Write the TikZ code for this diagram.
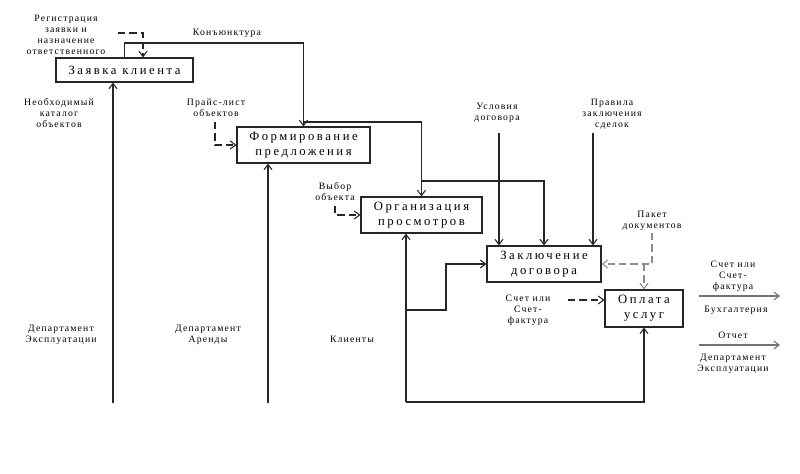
\documentclass[tikz,border=0pt]{standalone}
\usepackage{fontspec}
\setmainfont{Liberation Serif}
\newfontfamily\boxfont[LetterSpace=20]{Liberation Serif}
\newfontfamily\lblfont[LetterSpace=12]{Liberation Serif}
\usetikzlibrary{arrows.meta}

\begin{document}
\begin{tikzpicture}[x=0.75pt,y=-0.75pt,
    box/.style={draw=black!85,line width=0.8pt,align=center,inner sep=1pt,
      font=\boxfont\fontsize{9.5}{11.5}\selectfont},
    lbl/.style={align=center,inner sep=0pt,font=\lblfont\fontsize{7.3}{8.3}\selectfont},
    flow/.style={draw=black!85,line width=0.8pt,-{Straight Barb[length=4pt,width=6pt]}},
    ctrl/.style={flow,dash pattern=on 5.5pt off 3pt},
    grey ctrl/.style={ctrl,draw=black!45}]
\useasboundingbox (0,0) rectangle (800,474);

% functions
\node[box,minimum width=102.75pt,minimum height=18pt] (zayavka) at (124.5,70) {Заявка клиента};
\node[box,minimum width=99.75pt,minimum height=27pt] (predl) at (303.5,145) {Формирование\\предложения};
\node[box,minimum width=90.75pt,minimum height=27pt] (prosm) at (421.5,215) {Организация\\просмотров};
\node[box,minimum width=85.5pt,minimum height=27pt] (dogovor) at (544,264) {Заключение\\договора};
\node[box,minimum width=58.5pt,minimum height=27.75pt] (oplata) at (644,308.5) {Оплата\\услуг};

% labels
\node[lbl] (registr) at (66,35) {Регистрация\\заявки и\\назначение\\ответственного};
\node[lbl] (konj) at (227,33) {Конъюнктура};
\node[lbl] (katalog) at (59,113) {Необходимый\\каталог\\объектов};
\node[lbl] (prais) at (216,108) {Прайс-лист\\объектов};
\node[lbl] (vybor) at (335,192) {Выбор\\объекта};
\node[lbl] (uslov) at (497,113) {Условия\\договора};
\node[lbl] (pravila) at (612,114) {Правила\\заключения\\сделок};
\node[lbl] (paket) at (652,221) {Пакет\\документов};
\node[lbl] (schetin) at (528,310) {Счет или\\Счет-\\фактура};
\node[lbl] (explin) at (61,335) {Департамент\\Эксплуатации};
\node[lbl] (arenda) at (208,335) {Департамент\\Аренды};
\node[lbl] (klienty) at (352,339) {Клиенты};
\node[lbl] (schetout) at (733,276) {Счет или\\Счет-\\фактура};
\node[lbl] (buh) at (736,310) {Бухгалтерия};
\node[lbl] (otchet) at (733,335) {Отчет};
\node[lbl] (explout) at (733,364) {Департамент\\Эксплуатации};

% free ends
\coordinate (k2) at (303.5,43);
\coordinate (b1) at (303.5,122);
\coordinate (b2) at (421.5,181);
\coordinate (r0) at (118,33);
\coordinate (r1) at (143,33);
\coordinate (p0) at (215,122);
\coordinate (v0) at (335,206);
\coordinate (u0) at (499,133);
\coordinate (pr0) at (593,133);
\coordinate (pk0) at (652,233);
\coordinate (pk1) at (652,264);
\coordinate (pk2) at (644,264);
\coordinate (s0) at (568,300);
\coordinate (m1) at (113,403);
\coordinate (m2) at (268,403);
\coordinate (m3) at (406,402);
\coordinate (m4) at (406,310);
\coordinate (m5) at (446,310);
\coordinate (o1) at (699,296);
\coordinate (o2) at (780,296);
\coordinate (o3) at (699,345);
\coordinate (o4) at (780,345);

% controls
\draw[flow] (zayavka.north) |- (k2) -- (predl.north);
\draw[flow] (b1) -| (prosm.north);
\draw[flow] (b2) -| (dogovor.north);
\draw[ctrl] (r0) -- (r1) -- (r1 |- zayavka.north);
\draw[ctrl] (p0) |- (predl.west);
\draw[ctrl] (v0) |- (prosm.west);
\draw[flow] (u0) -- (u0 |- dogovor.north);
\draw[flow] (pr0) -- (pr0 |- dogovor.north);
\draw[grey ctrl] (pk0) -- (pk1) -- (dogovor.east);
\draw[grey ctrl] (pk2) -- (oplata.north);
\draw[ctrl] (s0) -- (s0 -| oplata.west);

% mechanisms
\draw[flow] (m1) -- (m1 |- zayavka.south);
\draw[flow] (m2) -- (m2 |- predl.south);
\draw[flow] (m3) -- (m3 |- prosm.south);
\draw[flow] (m3) -| (oplata.south);
\draw[flow] (m4) -- (m5) |- (dogovor.west);

% outputs
\draw[flow,draw=black!55] (o1) -- (o2);
\draw[flow,draw=black!55] (o3) -- (o4);
\end{tikzpicture}
\end{document}
